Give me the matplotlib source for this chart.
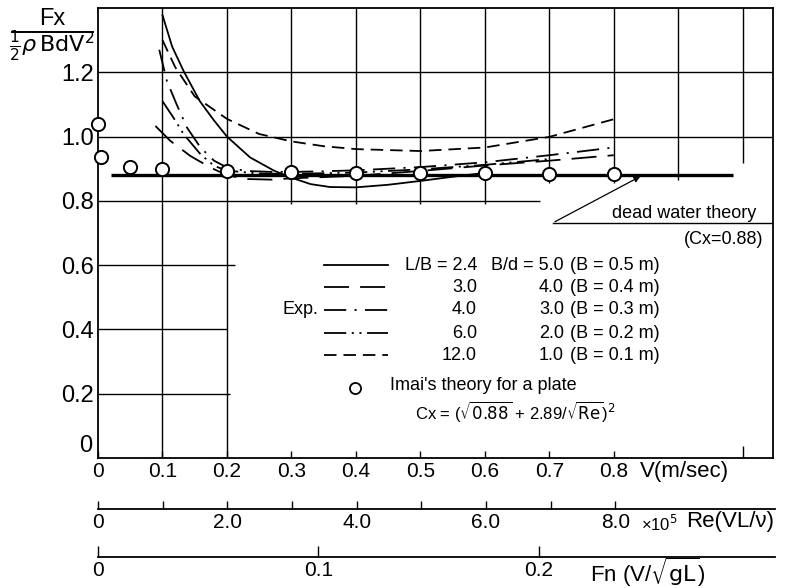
import numpy as np
import matplotlib.pyplot as plt
from matplotlib.lines import Line2D

plt.rcParams['font.family'] = ['Liberation Sans Narrow', 'Liberation Sans', 'DejaVu Sans']
plt.rcParams['mathtext.fontset'] = 'dejavusans'
plt.rcParams['lines.scale_dashes'] = False

# --- experimental curves (V in m/s, Fx / (1/2 rho B d V^2)) ---
v_24 = [0.1, 0.115, 0.133, 0.158, 0.18, 0.2, 0.236, 0.273, 0.3, 0.33, 0.36, 0.40, 0.45, 0.5, 0.55, 0.6]
c_24 = [1.378, 1.28, 1.203, 1.11, 1.05, 1.0, 0.935, 0.894, 0.872, 0.852, 0.843, 0.842, 0.85, 0.862, 0.875, 0.887]

v_30 = [0.089, 0.112, 0.143, 0.174, 0.2, 0.23, 0.27, 0.3, 0.4, 0.5, 0.6, 0.7, 0.8]
c_30 = [1.033, 0.987, 0.94, 0.904, 0.88, 0.868, 0.866, 0.87, 0.878, 0.893, 0.91, 0.925, 0.942]

v_40 = [0.095, 0.107, 0.122, 0.138, 0.159, 0.18, 0.2, 0.23, 0.27, 0.3, 0.35, 0.4, 0.5, 0.6, 0.7, 0.8]
c_40 = [1.27, 1.172, 1.10, 1.028, 0.966, 0.925, 0.904, 0.893, 0.89, 0.89, 0.892, 0.895, 0.905, 0.92, 0.942, 0.966]

v_60 = [0.1, 0.117, 0.133, 0.159, 0.18, 0.2, 0.25, 0.3, 0.4, 0.5, 0.6, 0.7]
c_60 = [1.11, 1.059, 1.007, 0.945, 0.909, 0.894, 0.885, 0.884, 0.888, 0.898, 0.912, 0.93]

v_120 = [0.1, 0.12, 0.15, 0.2, 0.25, 0.3, 0.35, 0.4, 0.5, 0.6, 0.7, 0.8]
c_120 = [1.30, 1.215, 1.125, 1.055, 1.008, 0.985, 0.97, 0.961, 0.955, 0.966, 0.999, 1.054]

# Imai's theory for a plate
v_imai = [0.0, 0.005, 0.05, 0.1, 0.2, 0.3, 0.4, 0.5, 0.6, 0.7, 0.8]
c_imai = [1.04, 0.935, 0.905, 0.90, 0.893, 0.89, 0.888, 0.887, 0.886, 0.885, 0.885]

# dead water theory
v_dead = [0.02, 0.985]
c_dead = [0.88, 0.88]

v_ticks = [0, 0.1, 0.2, 0.3, 0.4, 0.5, 0.6, 0.7, 0.8]
v_labels = ['0', '0.1', '0.2', '0.3', '0.4', '0.5', '0.6', '0.7', '0.8']
y_ticks = [0.2, 0.4, 0.6, 0.8, 1.0, 1.2]
y_labels = ['0.2', '0.4', '0.6', '0.8', '1.0', '1.2']
re_ticks = [0, 1, 2, 3, 4, 5, 6, 7, 8]
re_labels = ['0', '', '2.0', '', '4.0', '', '6.0', '', '8.0']
fn_ticks = [0, 0.1, 0.2]
fn_labels = ['0', '0.1', '0.2']

legend_lb = ['L/B = 2.4', '3.0', '4.0', '6.0', '12.0']
legend_bd = ['B/d = 5.0', '4.0', '3.0', '2.0', '1.0']
legend_b = ['(B = 0.5 m)', '(B = 0.4 m)', '(B = 0.3 m)', '(B = 0.2 m)', '(B = 0.1 m)']

W, H = 811, 588
def fx(px):
    return px / W
def fy(py):
    return 1 - py / H

VMAX = 1.047
fig = plt.figure(figsize=(W / 100, H / 100), dpi=100)
ax = fig.add_axes([fx(98), fy(458), 675 / W, 450 / H])
ax.set_xlim(0, VMAX)
ax.set_ylim(0, 1.4)
for s in ax.spines.values():
    s.set_linewidth(1.3)

# partial grid like the original drawing
gk = dict(color='k', lw=1.0, zorder=1)
for y, xe in [(1.2, VMAX), (1.0, VMAX), (0.8, 0.685), (0.6, 0.213), (0.4, 0.2), (0.2, 0.205)]:
    ax.hlines(y, 0, xe, **gk)
for x, ys in [(0.1, 0), (0.2, 0), (0.3, 0.79), (0.4, 0.79), (0.5, 0.79), (0.6, 0.79),
              (0.7, 0.855), (0.8, 0.855), (0.9, 0.866), (1.0, 0.918)]:
    ax.vlines(x, ys, 1.4, **gk)

styles = ['-', (0, (18, 8)), (0, (16, 6, 1.5, 6)), (0, (16, 4, 1.5, 4, 1.5, 4)), (0, (9, 5))]
curves = [(v_24, c_24), (v_30, c_30), (v_40, c_40), (v_60, c_60), (v_120, c_120)]
for (vx, cy), ls in zip(curves, styles):
    ax.plot(vx, cy, color='k', lw=1.3, ls=ls, zorder=3)

ax.plot(v_dead, c_dead, color='k', lw=2.4, zorder=4, solid_capstyle='butt')
ax.plot(v_imai, c_imai, 'o', ms=9.5, mfc='white', mec='k', mew=1.4, zorder=5, clip_on=False)

# ticks / labels of V axis
ax.set_xticks(v_ticks)
ax.set_xticklabels(v_labels, fontsize=15)
ax.set_xticks([1.0], minor=True)
ax.tick_params(axis='x', which='major', direction='in', length=5, width=1.0, pad=3)
ax.tick_params(axis='x', which='minor', direction='in', length=9, width=1.0)
ax.set_yticks(y_ticks)
ax.set_yticklabels(y_labels, fontsize=17)
ax.tick_params(axis='y', length=0, pad=3)
fig.text(fx(86), fy(446), '0', fontsize=17, ha='center', va='center')
fig.text(fx(640), fy(472), 'V(m/sec)', fontsize=16, ha='left', va='center')

# Reynolds number axis
ax_re = fig.add_axes([fx(98), fy(509), 677 / W, 0.001])
ax_re.set_xlim(0, VMAX * 10)
ax_re.set_yticks([])
for k in ['left', 'right', 'top']:
    ax_re.spines[k].set_visible(False)
ax_re.spines['bottom'].set_linewidth(1.3)
ax_re.set_xticks(re_ticks)
ax_re.set_xticklabels(re_labels, fontsize=15)
ax_re.tick_params(axis='x', direction='in', length=6, width=1.0, pad=3)
fig.text(fx(641), fy(524), '×10$^5$', fontsize=12, ha='left', va='center')
fig.text(fx(686), fy(521), 'Re(VL/ν)', fontsize=16, ha='left', va='center')

# Froude number axis
ax_fn = fig.add_axes([fx(98), fy(557), 677 / W, 0.001])
ax_fn.set_xlim(0, VMAX / 3.41)
ax_fn.set_yticks([])
for k in ['left', 'right', 'top']:
    ax_fn.spines[k].set_visible(False)
ax_fn.spines['bottom'].set_linewidth(1.3)
ax_fn.set_xticks(fn_ticks)
ax_fn.set_xticklabels(fn_labels, fontsize=15)
ax_fn.tick_params(axis='x', direction='in', length=8, width=1.0, pad=3)
fig.text(fx(590), fy(572), r'Fn (V/$\sqrt{\mathrm{gL}}$)', fontsize=16, ha='left', va='center')

# ordinate label as a fraction
fig.text(fx(52), fy(19), 'Fx', fontsize=17, ha='center', va='center')
fig.add_artist(Line2D([fx(12), fx(93)], [fy(32), fy(32)], color='k', lw=1.4))
fig.text(fx(52), fy(46), r'$\frac{1}{2}\rho\,\mathrm{BdV}^2$', fontsize=16, ha='center', va='center')

# dead water theory note
ax.annotate('', xy=(0.845, 0.88), xytext=(0.705, 0.731),
            arrowprops=dict(arrowstyle='-|>', lw=0.9, color='k', mutation_scale=9), zorder=6)
fig.add_artist(Line2D([fx(553), fx(772)], [fy(223), fy(223)], color='k', lw=1.0))
fig.text(fx(612), fy(213), 'dead water theory', fontsize=13, ha='left', va='center')
fig.text(fx(763), fy(239), '(Cx=0.88)', fontsize=13, ha='right', va='center')

# legend drawn in the style of the original
rows = [265, 287, 310, 333, 355]
for py, ls, lb, bd, bb in zip(rows, styles, legend_lb, legend_bd, legend_b):
    fig.add_artist(Line2D([fx(324), fx(388)], [fy(py), fy(py)], color='k', lw=1.3, ls=ls))
    fig.text(fx(477), fy(py), lb, fontsize=13, ha='right', va='center')
    fig.text(fx(564), fy(py), bd, fontsize=13, ha='right', va='center')
    fig.text(fx(570), fy(py), bb, fontsize=13, ha='left', va='center')
fig.text(fx(283), fy(310), 'Exp.', fontsize=13, ha='left', va='center')
fig.add_artist(Line2D([fx(355)], [fy(388)], marker='o', ms=8, mfc='white', mec='k', mew=1.3))
fig.text(fx(390), fy(386), "Imai's theory for a plate", fontsize=13, ha='left', va='center')
fig.text(fx(415), fy(411), r'Cx = ($\sqrt{0.88}$ + 2.89/$\sqrt{\mathrm{Re}}$)$^2$',
         fontsize=12, ha='left', va='center')

fig.savefig('out.png', dpi=100)
